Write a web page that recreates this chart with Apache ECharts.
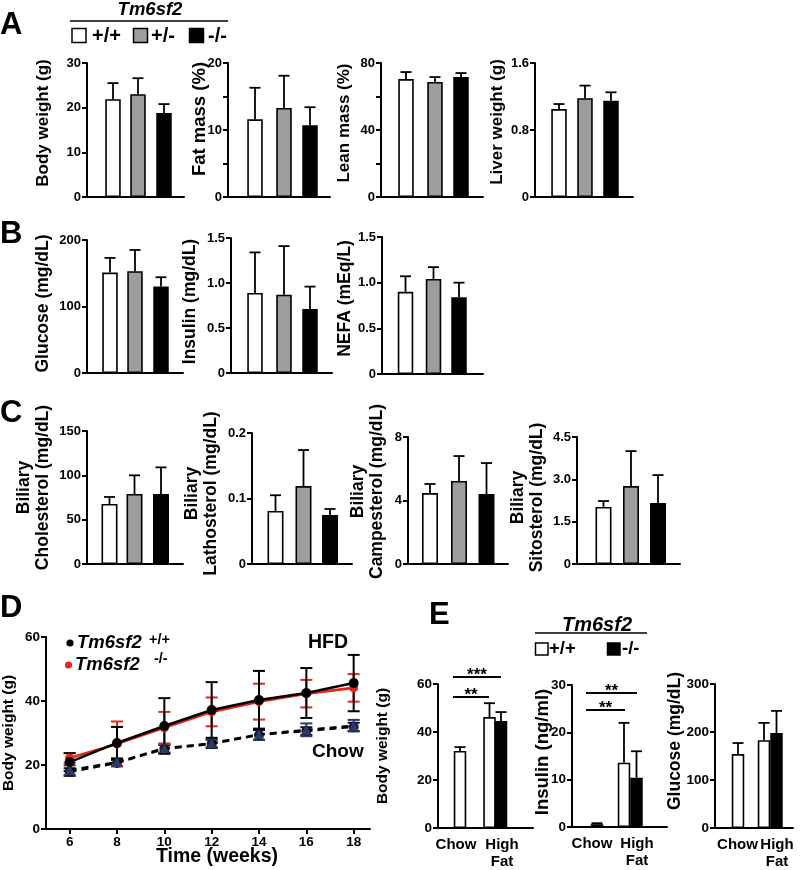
<!DOCTYPE html>
<html><head><meta charset="utf-8">
<script src="https://cdn.jsdelivr.net/npm/echarts@6/dist/echarts.min.js"></script>
<style>html,body{margin:0;padding:0;background:#fff}#c{width:805px;height:870px}</style>
</head><body><div id="c"></div>
<script>
// ---------------- DATA ----------------
const genotypes = ['+/+', '+/-', '-/-'];
const bodyWeight = [21.9, 23.0, 18.8];
const bodyWeightSD = [3.6, 3.6, 2.0];
const fatMass = [11.6, 13.3, 10.7];
const fatMassSD = [4.7, 4.8, 2.7];
const leanMass = [70.4, 68.7, 71.6];
const leanMassSD = [4.2, 2.9, 2.4];
const liverWeight = [1.05, 1.18, 1.15];
const liverWeightSD = [0.06, 0.15, 0.10];
const glucose = [151, 153, 130];
const glucoseSD = [22, 32, 14];
const insulin = [0.89, 0.87, 0.71];
const insulinSD = [0.45, 0.54, 0.25];
const nefa = [0.90, 1.04, 0.84];
const nefaSD = [0.17, 0.13, 0.16];
const bilCholesterol = [67.7, 79, 79];
const bilCholesterolSD = [7.9, 21, 30];
const bilLathosterol = [0.081, 0.119, 0.075];
const bilLathosterolSD = [0.024, 0.055, 0.009];
const bilCampesterol = [4.47, 5.23, 4.41];
const bilCampesterolSD = [0.57, 1.57, 1.95];
const bilSitosterol = [2.02, 2.76, 2.16];
const bilSitosterolSD = [0.21, 1.24, 0.99];

const weeks = [6, 8, 10, 12, 14, 16, 18];
const hfdWT = [20.9, 26.9, 32.2, 37.2, 40.3, 42.5, 45.6];
const hfdWTSD = [2.8, 5.0, 8.7, 8.7, 9.1, 7.8, 8.8];
const hfdKO = [22.2, 26.6, 31.6, 36.6, 39.8, 42.3, 44.1];
const hfdKOSD = [1.5, 7.0, 5.0, 4.5, 5.6, 4.3, 4.3];
const chowWT = [17.8, 20.6, 25.0, 26.6, 29.4, 30.6, 31.9];
const chowWTSD = [1.2, 1.0, 1.2, 1.3, 1.5, 1.2, 1.3];
const chowKO = [18.4, 20.9, 25.3, 26.8, 29.6, 31.0, 32.3];
const chowKOSD = [1.5, 1.2, 1.4, 1.2, 1.8, 2.0, 1.8];

const dietGroups = ['Chow', 'High\nFat'];
const eBodyWT = [32.1, 46.2], eBodyWTSD = [1.6, 5.8];
const eBodyKO = [null, 44.6], eBodyKOSD = [null, 3.7];
const eInsulinWT = [0.6, 13.6], eInsulinWTSD = [0.2, 8.4];
const eInsulinKO = [null, 10.4], eInsulinKOSD = [null, 5.6];
const eGlucoseWT = [154, 183], eGlucoseWTSD = [23, 36];
const eGlucoseKO = [null, 198], eGlucoseKOSD = [null, 46];
const eBodySig = ['***', '**'], eBodySigLevel = [62.9, 54.6];
const eInsulinSig = ['**', '**'], eInsulinSigLevel = [28.3, 24.7];

// ---------------- STYLE / LAYOUT ----------------
const FONT = '"Liberation Sans", Arial, Helvetica, sans-serif';
const GENO_COLORS = ['#ffffff', '#9d9d9f', '#000000'];
const fmt1 = v => (v === 0 ? '0' : v.toFixed(1));

const option = {
  animation: false,
  backgroundColor: '#fff',
  textStyle: { fontFamily: FONT, color: '#000' },
  grid: [], xAxis: [], yAxis: [], series: [], graphic: []
};

function errRender(capW, both, color, lw) {
  return function (params, api) {
    const x = api.value(0), v = api.value(1), e = api.value(2);
    const top = api.coord([x, v + e]);
    const bot = api.coord([x, both ? v - e : v]);
    const ch = [
      { type: 'line', shape: { x1: top[0], y1: top[1], x2: bot[0], y2: bot[1] }, style: { stroke: color, lineWidth: lw } },
      { type: 'line', shape: { x1: top[0] - capW / 2, y1: top[1], x2: top[0] + capW / 2, y2: top[1] }, style: { stroke: color, lineWidth: lw } }
    ];
    if (both) ch.push({ type: 'line', shape: { x1: bot[0] - capW / 2, y1: bot[1], x2: bot[0] + capW / 2, y2: bot[1] }, style: { stroke: color, lineWidth: lw } });
    return { type: 'group', children: ch };
  };
}

function addAxes(L, y) {
  const k = option.grid.length;
  option.grid.push({ left: L.left, top: L.top, width: L.width, height: L.height, containLabel: false, outerBoundsMode: 'none' });
  const xa = {
    type: 'value', gridIndex: k, min: L.xMin || 0, max: L.xMax != null ? L.xMax : L.width,
    axisLine: { show: true, onZero: false, lineStyle: { color: '#000', width: 2 } },
    axisTick: { show: false }, axisLabel: { show: false }, splitLine: { show: false }
  };
  if (L.xLabels) {
    xa.axisLabel = {
      show: true, customValues: L.xLabelPos, color: '#000', fontWeight: 'bold', fontSize: 15, lineHeight: 17, margin: 8,
      formatter: v => { let best = 0; L.xLabelPos.forEach((p, i) => { if (Math.abs(p - v) < Math.abs(L.xLabelPos[best] - v)) best = i; }); return L.xLabels[best]; }
    };
  }
  if (L.xExtra) Object.assign(xa, L.xExtra);
  option.xAxis.push(xa);
  const shift = y.shift || 0;
  option.yAxis.push({
    type: 'value', gridIndex: k, min: 0, max: y.max, interval: y.interval,
    axisLine: { show: true, onZero: false, lineStyle: { color: '#000', width: 2 } },
    axisTick: { show: true, length: 5, lineStyle: { color: '#000', width: 2 } },
    axisLabel: { color: '#000', fontWeight: 'bold', fontSize: y.tickSize || 13, margin: 6, formatter: y.fmt },
    splitLine: { show: false },
    name: y.name, nameLocation: 'middle', nameRotate: 90, nameGap: y.gap, nameMoveOverlap: false,
    nameTextStyle: {
      color: '#000', fontWeight: 'bold', fontSize: y.size || 17, lineHeight: y.lh || 19, align: 'center',
      padding: shift >= 0 ? [0, 0, 0, 2 * shift] : [0, -2 * shift, 0, 0]
    }
  });
  return k;
}

function addBarPanel(L, y, values, sds, colors, barW) {
  const k = addAxes(L, y);
  const bars = [], errs = [];
  values.forEach((v, i) => {
    if (v == null) return;
    bars.push({ value: [L.pos[i], v], itemStyle: { color: colors[i] } });
    errs.push([L.pos[i], v, sds[i]]);
  });
  option.series.push({
    type: 'bar', xAxisIndex: k, yAxisIndex: k, barWidth: barW, z: 3, data: bars,
    itemStyle: { borderColor: '#000', borderWidth: 1.6 }, emphasis: { disabled: true }
  });
  option.series.push({
    type: 'custom', xAxisIndex: k, yAxisIndex: k, z: 2, clip: false, data: errs,
    encode: { x: 0, y: 1 }, renderItem: errRender(11, false, '#000', 1.8)
  });
  return k;
}

function addSig(k, spans, levels, labels) {
  const data = spans.map((s, i) => [s[0], s[1], levels[i]]);
  option.series.push({
    type: 'custom', xAxisIndex: k, yAxisIndex: k, z: 5, clip: false, data: data, encode: { x: 0, y: 2 },
    renderItem: function (params, api) {
      const a = api.coord([api.value(0), api.value(2)]);
      const b = api.coord([api.value(1), api.value(2)]);
      return { type: 'group', children: [
        { type: 'line', shape: { x1: a[0], y1: a[1], x2: b[0], y2: b[1] }, style: { stroke: '#000', lineWidth: 2 } },
        { type: 'text', x: (a[0] + b[0]) / 2, y: a[1] - 2, style: { text: labels[params.dataIndex], fontSize: 17, fontWeight: 'bold', fontFamily: FONT, fill: '#000', align: 'center', verticalAlign: 'middle' } }
      ] };
    }
  });
}

// ---- Panel A ----
addBarPanel({ left: 87, top: 63, width: 97, height: 134, pos: [26, 51, 77] },
  { max: 30, interval: 10, name: 'Body weight (g)', gap: 34, shift: 7 }, bodyWeight, bodyWeightSD, GENO_COLORS, 15.5);
addBarPanel({ left: 228, top: 63, width: 102, height: 134, pos: [27, 56, 82] },
  { max: 20, interval: 5, fmt: v => (v % 10 === 0 ? v : ''), name: 'Fat mass (%)', gap: 19, shift: 11, size: 18.5 }, fatMass, fatMassSD, GENO_COLORS, 15.5);
addBarPanel({ left: 381, top: 63, width: 102, height: 134, pos: [25, 54, 80] },
  { max: 80, interval: 20, fmt: v => (v % 40 === 0 ? v : ''), name: 'Lean mass (%)', gap: 27, shift: 7 }, leanMass, leanMassSD, GENO_COLORS, 15.5);
addBarPanel({ left: 535, top: 63, width: 98, height: 134, pos: [24, 50, 76] },
  { max: 1.6, interval: 0.8, fmt: fmt1, name: 'Liver weight (g)', gap: 28, shift: 8 }, liverWeight, liverWeightSD, GENO_COLORS, 15.5);

// ---- Panel B ----
addBarPanel({ left: 87, top: 240, width: 96, height: 133, pos: [23, 48, 74] },
  { max: 200, interval: 100, name: 'Glucose (mg/dL)', gap: 34, shift: 3, size: 17.5 }, glucose, glucoseSD, GENO_COLORS, 15.5);
addBarPanel({ left: 231, top: 238, width: 101, height: 135, pos: [24, 53, 79] },
  { max: 1.5, interval: 0.5, fmt: fmt1, name: 'Insulin (mg/dL)', gap: 31, shift: 4, size: 17.5 }, insulin, insulinSD, GENO_COLORS, 15.5);
addBarPanel({ left: 382, top: 237, width: 101, height: 137, pos: [23.5, 51.5, 77] },
  { max: 1.5, interval: 0.5, fmt: fmt1, name: 'NEFA (mEq/L)', gap: 27, shift: 7, size: 17.5 }, nefa, nefaSD, GENO_COLORS, 15.5);

// ---- Panel C ----
addBarPanel({ left: 87, top: 431, width: 96, height: 133, pos: [22.5, 47.5, 74] },
  { max: 150, interval: 50, name: 'Biliary\nCholesterol (mg/dL)', gap: 34, shift: 10, size: 17.5 }, bilCholesterol, bilCholesterolSD, GENO_COLORS, 16);
addBarPanel({ left: 252, top: 433, width: 100, height: 131, pos: [23.5, 51.5, 78] },
  { max: 0.2, interval: 0.1, fmt: fmt1, name: 'Biliary\nLathosterol (mg/dL)', gap: 31, shift: 5, size: 17.5 }, bilLathosterol, bilLathosterolSD, GENO_COLORS, 16);
addBarPanel({ left: 408, top: 437, width: 100, height: 127, pos: [22, 51, 78.5] },
  { max: 8, interval: 4, name: 'Biliary\nCampesterol (mg/dL)', gap: 21, shift: 9, size: 17.5 }, bilCampesterol, bilCampesterolSD, GENO_COLORS, 16);
addBarPanel({ left: 577, top: 437, width: 103, height: 127, pos: [26.5, 54, 81] },
  { max: 4.5, interval: 1.5, fmt: fmt1, name: 'Biliary\nSitosterol (mg/dL)', gap: 30, shift: 3, size: 17.5 }, bilSitosterol, bilSitosterolSD, GENO_COLORS, 16);

// ---- Panel D ----
const kD = addAxes({ left: 46, top: 637, width: 324, height: 192, xMin: 5, xMax: 18.69,
  xExtra: {
    axisTick: { show: true, customValues: weeks, length: 5, lineStyle: { color: '#000', width: 2 } },
    axisLabel: { show: true, customValues: weeks, color: '#000', fontWeight: 'bold', fontSize: 13.5, margin: 6 },
    name: 'Time (weeks)', nameLocation: 'middle', nameGap: 18, nameMoveOverlap: false,
    nameTextStyle: { color: '#000', fontWeight: 'bold', fontSize: 19.5, verticalAlign: 'top', padding: [0, 0, 0, 18] }
  } },
  { max: 60, interval: 20, name: 'Body weight (g)', gap: 28, shift: 0, size: 15.5, tickSize: 13.5 });

function lineSeries(vals, color, dashed, symbol, size, z) {
  option.series.push({
    type: 'line', xAxisIndex: kD, yAxisIndex: kD, z: z, data: weeks.map((w, i) => [w, vals[i]]),
    symbol: symbol, symbolSize: size, showSymbol: true,
    lineStyle: { color: dashed ? '#000' : color, width: dashed ? 2.2 : 2.6, type: dashed ? [7, 5] : 'solid' },
    itemStyle: { color: color, opacity: 1 }, emphasis: { disabled: true }
  });
}
function errSeries(vals, sds, color, z) {
  option.series.push({
    type: 'custom', xAxisIndex: kD, yAxisIndex: kD, z: z, clip: false,
    data: weeks.map((w, i) => [w, vals[i], sds[i]]), encode: { x: 0, y: 1 },
    renderItem: errRender(12, true, color, 2)
  });
}
errSeries(chowWT, chowWTSD, '#111', 2);
errSeries(chowKO, chowKOSD, '#2c3a66', 2);
errSeries(hfdKO, hfdKOSD, '#e3261d', 3);
errSeries(hfdWT, hfdWTSD, '#000', 4);
lineSeries(chowWT, '#151a2c', true, 'circle', 10, 5);
lineSeries(chowKO, '#2c3a66', true, 'triangle', 10, 6);
lineSeries(hfdKO, '#e3261d', false, 'circle', 9, 7);
lineSeries(hfdWT, '#000', false, 'circle', 10, 8);

// ---- Panel E ----
const E_COLORS = ['#ffffff', '#ffffff', '#000000'];
const kE1 = addBarPanel({ left: 438, top: 684, width: 95, height: 144, pos: [22, 51.5, 63], xLabels: dietGroups, xLabelPos: [18, 64] },
  { max: 60, interval: 20, name: 'Body weight (g)', gap: 46, shift: 10, size: 15.5, tickSize: 13.5 },
  [eBodyWT[0], eBodyWT[1], eBodyKO[1]], [eBodyWTSD[0], eBodyWTSD[1], eBodyKOSD[1]], E_COLORS, 12.5);
addSig(kE1, [[15, 63], [15, 51]], eBodySigLevel, eBodySig);
const kE2 = addBarPanel({ left: 572, top: 685, width: 95, height: 142, pos: [25, 52, 64.5], xLabels: dietGroups, xLabelPos: [20, 65] },
  { max: 30, interval: 10, name: 'Insulin (ng/ml)', gap: 20, shift: 4, size: 18.5, tickSize: 13.5 },
  [eInsulinWT[0], eInsulinWT[1], eInsulinKO[1]], [eInsulinWTSD[0], eInsulinWTSD[1], eInsulinKOSD[1]], E_COLORS, 12.5);
addSig(kE2, [[14, 65], [14, 53]], eInsulinSigLevel, eInsulinSig);
addBarPanel({ left: 715, top: 684, width: 78, height: 144, pos: [23, 49, 61.5], xLabels: dietGroups, xLabelPos: [22.5, 62] },
  { max: 300, interval: 100, name: 'Glucose (mg/dL)', gap: 30, shift: 15, size: 17.5, tickSize: 13.5 },
  [eGlucoseWT[0], eGlucoseWT[1], eGlucoseKO[1]], [eGlucoseWTSD[0], eGlucoseWTSD[1], eGlucoseKOSD[1]], E_COLORS, 12.5);

// ---------------- ANNOTATIONS ----------------
function txt(x, y, s, size, opts) {
  option.graphic.push(Object.assign({ type: 'text', x: x, y: y, z: 10,
    style: Object.assign({ text: s, fontSize: size, fontWeight: 'bold', fontFamily: FONT, fill: '#000', align: 'left', verticalAlign: 'middle' }, opts || {}) }));
}
function box(x, y, w, h, fill) {
  option.graphic.push({ type: 'rect', z: 10, shape: { x: x, y: y, width: w, height: h }, style: { fill: fill, stroke: '#000', lineWidth: 1.5 } });
}
function hline(x1, x2, y) {
  option.graphic.push({ type: 'line', z: 10, shape: { x1: x1, y1: y, x2: x2, y2: y }, style: { stroke: '#000', lineWidth: 1.5 } });
}
// panel letters
txt(0, 25, 'A', 31); txt(0, 234, 'B', 31); txt(0, 413, 'C', 31); txt(0, 608, 'D', 31); txt(429, 615, 'E', 31);
// legend A
txt(150, 10, 'Tm6sf2', 18.5, { align: 'center', fontStyle: 'italic' });
hline(70, 228, 21);
box(72, 28.5, 14, 14, GENO_COLORS[0]); txt(92, 36, genotypes[0], 20);
box(133.5, 28.5, 14, 14, GENO_COLORS[1]); txt(151, 36, genotypes[1], 20);
box(189.5, 28.5, 14, 14, GENO_COLORS[2]); txt(208, 36, genotypes[2], 20);
// legend E
txt(597, 625, 'Tm6sf2', 20, { align: 'center', fontStyle: 'italic' });
hline(535, 647, 633);
box(535.5, 643, 12.5, 12, '#fff'); txt(549, 649, genotypes[0], 18.5);
box(607.5, 643, 12.5, 12, '#000'); txt(622, 649, genotypes[2], 18.5);
// legend D
option.graphic.push({ type: 'circle', z: 10, shape: { cx: 70, cy: 643, r: 3.6 }, style: { fill: '#000' } });
txt(77, 643, 'Tm6sf2', 18.5, { fontStyle: 'italic' }); txt(149, 640, '+/+', 14.5);
option.graphic.push({ type: 'circle', z: 10, shape: { cx: 68.5, cy: 665, r: 3.6 }, style: { fill: '#e3261d' } });
txt(75, 665, 'Tm6sf2', 18.5, { fontStyle: 'italic' }); txt(154, 659, '-/-', 14.5);
txt(308, 643, 'HFD', 19.5); txt(312, 752, 'Chow', 19);

const chart = echarts.init(document.getElementById('c'), null, { renderer: 'canvas' });
chart.setOption(option);
</script></body></html>
